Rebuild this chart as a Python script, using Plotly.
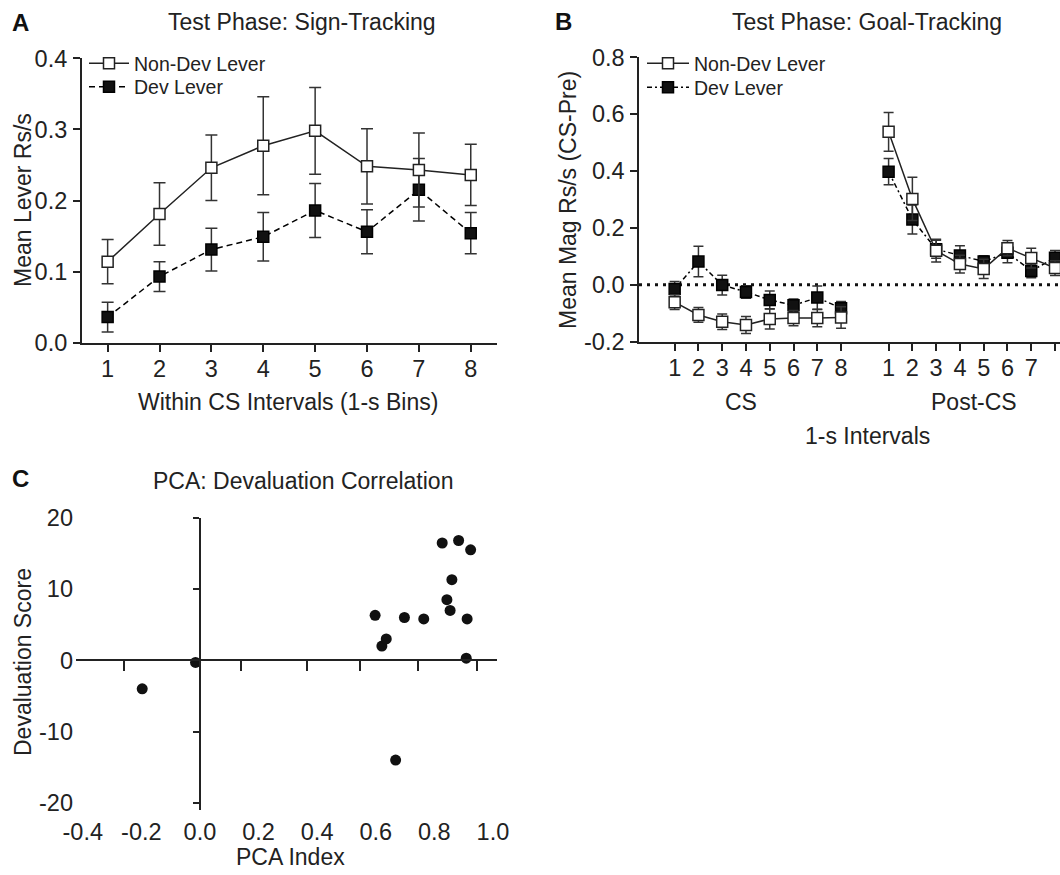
import plotly.graph_objects as go

# ---------------- data ----------------
intervals = [1, 2, 3, 4, 5, 6, 7, 8]
interval_labels = ["1", "2", "3", "4", "5", "6", "7", "8"]

# Panel A: sign-tracking (mean lever Rs/s, SEM)
a_nondev_mean = [0.114, 0.181, 0.246, 0.277, 0.298, 0.248, 0.243, 0.236]
a_nondev_sem = [0.031, 0.044, 0.046, 0.069, 0.061, 0.053, 0.052, 0.043]
a_dev_mean = [0.036, 0.093, 0.131, 0.149, 0.186, 0.156, 0.215, 0.154]
a_dev_sem = [0.021, 0.021, 0.030, 0.034, 0.038, 0.031, 0.044, 0.029]

# Panel B: goal-tracking (mean mag Rs/s CS-Pre, SEM)
b_cs_nondev = [-0.061, -0.106, -0.130, -0.141, -0.120, -0.117, -0.117, -0.115]
b_cs_nondev_sem = [0.026, 0.026, 0.027, 0.030, 0.035, 0.027, 0.030, 0.038]
b_cs_dev = [-0.015, 0.082, -0.001, -0.025, -0.053, -0.072, -0.045, -0.082]
b_cs_dev_sem = [0.027, 0.054, 0.035, 0.022, 0.031, 0.022, 0.041, 0.023]
b_post_nondev = [0.538, 0.302, 0.120, 0.073, 0.056, 0.129, 0.094, 0.059]
b_post_nondev_sem = [0.068, 0.076, 0.040, 0.031, 0.034, 0.027, 0.035, 0.026]
b_post_dev = [0.398, 0.230, 0.125, 0.103, 0.082, 0.113, 0.049, 0.095]
b_post_dev_sem = [0.046, 0.051, 0.032, 0.034, 0.020, 0.035, 0.024, 0.026]
post_offset = 9  # Post-CS bins placed after a one-bin gap

# Panel C: PCA index vs devaluation score
pca_index = [-0.197, -0.015, 0.598, 0.621, 0.636, 0.698, 0.764, 0.668,
             0.827, 0.883, 0.924, 0.860, 0.843, 0.854, 0.912, 0.909]
dev_score = [-4.0, -0.3, 6.3, 2.0, 3.0, 6.0, 5.8, -14.0,
             16.45, 16.8, 15.5, 11.3, 8.5, 7.0, 5.8, 0.3]
c_xticks = [-0.4, -0.2, 0.0, 0.2, 0.4, 0.6, 0.8, 1.0]
c_xtick_text = ["-0.4", "-0.2", "0.0", "0.2", "0.4", "0.6", "0.8", "1.0"]
c_yticks = [-20, -10, 0, 10, 20]
c_ytick_text = ["-20", "-10", "0", "10", "20"]
c_zero_ticks = [-0.26, 0.14, 0.365, 0.545, 0.745, 0.945]

# ---------------- layout helpers ----------------
W, H = 1060, 875
FONT = "Liberation Sans, Arial, Helvetica, sans-serif"
TXT = "#222222"


def px(x):
    return x / W


def py(y):
    return 1 - y / H


fig = go.Figure()

# ---------- Panel A ----------
fig.add_trace(go.Scatter(
    x=intervals, y=a_dev_mean, xaxis="x", yaxis="y", name="Dev Lever",
    mode="lines+markers", legend="legend3",
    line=dict(color="black", width=1.5, dash="6px,4px"),
    marker=dict(symbol="square", size=11, color="#111111",
                line=dict(color="black", width=1.5)),
    error_y=dict(type="data", array=a_dev_sem, color="#333333",
                 thickness=1.5, width=6),
))
fig.add_trace(go.Scatter(
    x=intervals, y=a_nondev_mean, xaxis="x", yaxis="y", name="Non-Dev Lever",
    mode="lines+markers", legend="legend",
    line=dict(color="#222222", width=1.5),
    marker=dict(symbol="square", size=11, color="white",
                line=dict(color="#222222", width=1.5)),
    error_y=dict(type="data", array=a_nondev_sem, color="#333333",
                 thickness=1.5, width=6),
))

# ---------- Panel B ----------
post_x = [i + post_offset for i in intervals]
for xs, ys, es, show in [(intervals, b_cs_dev, b_cs_dev_sem, True),
                         (post_x, b_post_dev, b_post_dev_sem, False)]:
    fig.add_trace(go.Scatter(
        x=xs, y=ys, xaxis="x2", yaxis="y2", name="Dev Lever",
        mode="lines+markers", legend="legend4", showlegend=show,
        line=dict(color="black", width=1.5, dash="5px,3px,2px,3px"),
        marker=dict(symbol="square", size=11, color="#111111",
                    line=dict(color="black", width=1.5)),
        error_y=dict(type="data", array=es, color="#333333",
                     thickness=1.5, width=5),
    ))
for xs, ys, es, show in [(intervals, b_cs_nondev, b_cs_nondev_sem, True),
                         (post_x, b_post_nondev, b_post_nondev_sem, False)]:
    fig.add_trace(go.Scatter(
        x=xs, y=ys, xaxis="x2", yaxis="y2", name="Non-Dev Lever",
        mode="lines+markers", legend="legend2", showlegend=show,
        line=dict(color="#222222", width=1.5),
        marker=dict(symbol="square", size=11, color="white",
                    line=dict(color="#222222", width=1.5)),
        error_y=dict(type="data", array=es, color="#333333",
                     thickness=1.5, width=5),
    ))

# ---------- Panel C ----------
fig.add_trace(go.Scatter(
    x=pca_index, y=dev_score, xaxis="x3", yaxis="y3", mode="markers",
    showlegend=False,
    marker=dict(symbol="circle", size=11, color="#111111"),
))
# empty traces so the cross-hair axes get drawn
fig.add_trace(go.Scatter(x=[], y=[], xaxis="x4", yaxis="y3", showlegend=False))
fig.add_trace(go.Scatter(x=[], y=[], xaxis="x3", yaxis="y4", showlegend=False))

tickfont = dict(family=FONT, size=23.5, color=TXT)
axis_common = dict(showgrid=False, zeroline=False, linecolor="#222222",
                   linewidth=1.5, tickcolor="#222222", tickwidth=1.5,
                   tickfont=tickfont, automargin=False)

# domains
a_x = [px(81.7), px(496.7)]
a_y = [py(342.7), py(58.3)]
b_x = [px(639), 1.0]
b_y = [py(341.7), py(57.3)]
c_x = [px(76), px(497)]
c_y = [py(810), py(517.7)]
c_xr = [-0.423, 1.014]
c_yr = [-21.0, 20.0]

# position of the cross-hair axes (data 0 converted to paper coords)
c_x0_paper = c_x[0] + (0 - c_xr[0]) / (c_xr[1] - c_xr[0]) * (c_x[1] - c_x[0])
c_y0_paper = c_y[0] + (0 - c_yr[0]) / (c_yr[1] - c_yr[0]) * (c_y[1] - c_y[0])


def legend_at(x_left, y_mid, item_w):
    return dict(x=px(x_left), y=py(y_mid), xanchor="left", yanchor="middle",
                bgcolor="rgba(0,0,0,0)", borderwidth=0, itemwidth=item_w,
                font=dict(family=FONT, size=19.5, color=TXT))


fig.update_layout(
    width=W, height=H, margin=dict(l=0, r=0, t=0, b=0, pad=0, autoexpand=False),
    paper_bgcolor="white", plot_bgcolor="white",
    font=dict(family=FONT, color=TXT),
    xaxis=dict(domain=a_x, anchor="y", range=[0.5, 8.5], tickvals=intervals,
               ticktext=interval_labels, ticks="outside", ticklen=8,
               showline=True, ticklabelstandoff=-4, **axis_common),
    yaxis=dict(domain=a_y, anchor="x", range=[0, 0.4],
               tickvals=[0, 0.1, 0.2, 0.3, 0.4], tickformat=".1f",
               ticks="outside", ticklen=7, showline=True,
               ticklabelstandoff=1, **axis_common),
    xaxis2=dict(domain=b_x, anchor="y2", range=[-0.5, 17.21],
                tickvals=intervals + post_x,
                ticktext=interval_labels + interval_labels,
                ticks="outside", ticklen=8, showline=True,
                ticklabelstandoff=-4, **axis_common),
    yaxis2=dict(domain=b_y, anchor="x2", range=[-0.2, 0.8],
                tickvals=[-0.2, 0, 0.2, 0.4, 0.6, 0.8],
                ticktext=["-0.2", "0.0", "0.2", "0.4", "0.6", "0.8"],
                ticks="outside", ticklen=7, showline=True,
                ticklabelstandoff=1, **axis_common),
    xaxis3=dict(domain=c_x, anchor="y3", range=c_xr, tickvals=c_xticks,
                ticktext=c_xtick_text, ticks="", showline=False,
                ticklabelstandoff=5, **axis_common),
    yaxis3=dict(domain=c_y, anchor="x3", range=c_yr, tickvals=c_yticks,
                ticktext=c_ytick_text, ticks="", showline=False,
                ticklabelstandoff=2, **axis_common),
    xaxis4=dict(overlaying="x3", anchor="free", position=c_y0_paper,
                side="bottom", range=c_xr, tickvals=c_zero_ticks,
                showticklabels=False, ticks="outside", ticklen=10,
                showline=True, **axis_common),
    yaxis4=dict(overlaying="y3", anchor="free", position=c_x0_paper,
                side="left", range=c_yr, tickvals=c_yticks,
                showticklabels=False, ticks="outside", ticklen=6,
                showline=True, **axis_common),
    legend=legend_at(84, 63.5, 40),
    legend3=legend_at(84, 87, 40),
    legend2=legend_at(642, 63.5, 42),
    legend4=legend_at(642, 87.5, 42),
    showlegend=True,
)

# dotted zero line in panel B
fig.add_shape(type="line", xref="x2 domain", x0=0, x1=1, yref="y2", y0=0, y1=0,
              line=dict(color="#111111", width=3, dash="3px,5px"), layer="below")

ann_font = dict(family=FONT, size=23, color=TXT)
letter_font = dict(family=FONT, size=24, color="#111111")
annotations = [
    # panel letters
    dict(text="<b>A</b>", x=px(20), y=py(23), font=letter_font),
    dict(text="<b>B</b>", x=px(563), y=py(21), font=letter_font),
    dict(text="<b>C</b>", x=px(20), y=py(479), font=letter_font),
    # panel titles
    dict(text="Test Phase: Sign-Tracking", x=px(302), y=py(22), font=ann_font),
    dict(text="Test Phase: Goal-Tracking", x=px(867), y=py(22), font=ann_font),
    dict(text="PCA: Devaluation Correlation", x=px(303), y=py(481), font=ann_font),
    # axis titles
    dict(text="Within CS Intervals (1-s Bins)", x=px(287.5), y=py(401.7), font=ann_font),
    dict(text="Mean Lever Rs/s", x=px(23), y=py(200), textangle=-90, font=ann_font),
    dict(text="Mean Mag Rs/s (CS-Pre)", x=px(568), y=py(200), textangle=-90, font=ann_font),
    dict(text="CS", x=px(740.7), y=py(402), font=ann_font),
    dict(text="Post-CS", x=px(974), y=py(402), font=ann_font),
    dict(text="1-s Intervals", x=px(867), y=py(435.7), font=ann_font),
    dict(text="PCA Index", x=px(290), y=py(857), font=ann_font),
    dict(text="Devaluation Score", x=px(23), y=py(662), textangle=-90, font=ann_font),
]
for a in annotations:
    fig.add_annotation(xref="paper", yref="paper", showarrow=False,
                       xanchor="center", yanchor="middle", **a)

fig.write_html("out.html", config={"displayModeBar": False},
               post_script="document.body.style.margin='0';")
